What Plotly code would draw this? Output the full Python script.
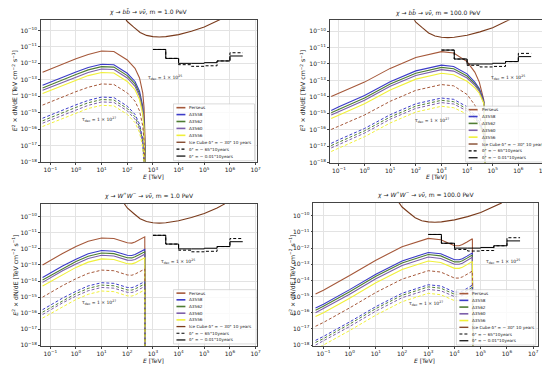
import plotly.graph_objects as go

W, H = 550, 365

# ---------------- data ----------------
# energies [TeV]
E_bb_1 = [0.05, 0.1, 0.3, 1, 3, 10, 30, 100, 200, 300, 400, 450, 490, 500]
E_bb_100 = [0.05, 0.1, 1, 10, 100, 1000, 3000, 10000, 20000, 30000, 40000, 45000, 49000, 50000]
E_ww_1 = [0.05, 0.1, 0.3, 1, 3, 10, 30, 100, 150, 200, 300, 400, 480, 500]
E_ww_100 = [0.05, 0.1, 1, 10, 100, 1000, 3000, 10000, 15000, 20000, 30000, 40000, 48000, 50000]

# chi -> b bbar, m = 1 PeV, tau = 1e25 (solid) and 1e27 (dashed)
bb1_perseus = [2.9e-13, 4.5e-13, 9.3e-13, 1.9e-12, 3.5e-12, 5.6e-12, 5.2e-12, 1.6e-12, 5.0e-13, 1.3e-13, 1.6e-14, 2.0e-15, 3.2e-17, 1e-19]
bb1_a3558 = [4.6e-14, 7.1e-14, 1.5e-13, 3.0e-13, 5.6e-13, 8.9e-13, 8.3e-13, 2.5e-13, 7.9e-14, 2.0e-14, 2.5e-15, 3.2e-16, 5.0e-18, 1e-19]
bb1_a3562 = [3.2e-14, 5.0e-14, 1.05e-13, 2.1e-13, 4.0e-13, 6.3e-13, 5.9e-13, 1.8e-13, 5.6e-14, 1.4e-14, 1.8e-15, 2.2e-16, 3.5e-18, 1e-19]
bb1_a3560 = [2.3e-14, 3.5e-14, 7.4e-14, 1.5e-13, 2.8e-13, 4.5e-13, 4.2e-13, 1.3e-13, 4.0e-14, 1.0e-14, 1.3e-15, 1.6e-16, 2.5e-18, 1e-19]
bb1_a3556 = [1.45e-14, 2.2e-14, 4.7e-14, 9.5e-14, 1.8e-13, 2.8e-13, 2.6e-13, 7.9e-14, 2.5e-14, 6.3e-15, 7.9e-16, 1.0e-16, 1.6e-18, 1e-19]
bb1_perseus_27 = [2.9e-15, 4.5e-15, 9.3e-15, 1.9e-14, 3.5e-14, 5.6e-14, 5.2e-14, 1.6e-14, 5.0e-15, 1.3e-15, 1.6e-16, 2.0e-17, 3.2e-19, 1e-21]
bb1_a3558_27 = [4.6e-16, 7.1e-16, 1.5e-15, 3.0e-15, 5.6e-15, 8.9e-15, 8.3e-15, 2.5e-15, 7.9e-16, 2.0e-16, 2.5e-17, 3.2e-18, 5.0e-20, 1e-21]
bb1_a3562_27 = [3.2e-16, 5.0e-16, 1.05e-15, 2.1e-15, 4.0e-15, 6.3e-15, 5.9e-15, 1.8e-15, 5.6e-16, 1.4e-16, 1.8e-17, 2.2e-18, 3.5e-20, 1e-21]
bb1_a3560_27 = [2.3e-16, 3.5e-16, 7.4e-16, 1.5e-15, 2.8e-15, 4.5e-15, 4.2e-15, 1.3e-15, 4.0e-16, 1.0e-16, 1.3e-17, 1.6e-18, 2.5e-20, 1e-21]
bb1_a3556_27 = [1.45e-16, 2.2e-16, 4.7e-16, 9.5e-16, 1.8e-15, 2.8e-15, 2.6e-15, 7.9e-16, 2.5e-16, 6.3e-17, 7.9e-18, 1.0e-18, 1.6e-20, 1e-21]

# chi -> b bbar, m = 100 PeV
bb100_perseus = [1.05e-14, 1.66e-14, 7.9e-14, 5.4e-13, 2.5e-12, 5.6e-12, 4.7e-12, 1.4e-12, 3.2e-13, 7.9e-14, 1.6e-14, 6.3e-15, 3.2e-16, 1e-19]
bb100_a3558 = [1.5e-15, 2.5e-15, 1.2e-14, 8.3e-14, 3.8e-13, 8.5e-13, 7.1e-13, 2.5e-13, 7.9e-14, 3.2e-14, 1.0e-14, 5.0e-15, 3.2e-16, 1e-19]
bb100_a3562 = [1.1e-15, 1.8e-15, 8.7e-15, 6.0e-14, 2.75e-13, 6.2e-13, 5.1e-13, 1.86e-13, 6.3e-14, 2.6e-14, 8.9e-15, 4.7e-15, 3.2e-16, 1e-19]
bb100_a3560 = [7.9e-16, 1.3e-15, 6.3e-15, 4.4e-14, 2.0e-13, 4.5e-13, 3.7e-13, 1.4e-13, 5.0e-14, 2.2e-14, 7.9e-15, 4.4e-15, 3.2e-16, 1e-19]
bb100_a3556 = [4.8e-16, 7.9e-16, 3.8e-15, 2.6e-14, 1.2e-13, 2.7e-13, 2.2e-13, 8.9e-14, 3.5e-14, 1.66e-14, 6.6e-15, 4.0e-15, 3.2e-16, 1e-19]
bb100_perseus_27 = [1.05e-16, 1.66e-16, 7.9e-16, 5.4e-15, 2.5e-14, 5.6e-14, 4.7e-14, 1.4e-14, 3.2e-15, 7.9e-16, 1.6e-16, 6.3e-17, 3.2e-18, 1e-21]
bb100_a3558_27 = [1.5e-17, 2.5e-17, 1.2e-16, 8.3e-16, 3.8e-15, 8.5e-15, 7.1e-15, 2.5e-15, 7.9e-16, 3.2e-16, 1.0e-16, 5.0e-17, 3.2e-18, 1e-21]
bb100_a3562_27 = [1.1e-17, 1.8e-17, 8.7e-17, 6.0e-16, 2.75e-15, 6.2e-15, 5.1e-15, 1.86e-15, 6.3e-16, 2.6e-16, 8.9e-17, 4.7e-17, 3.2e-18, 1e-21]
bb100_a3560_27 = [7.9e-18, 1.3e-17, 6.3e-17, 4.4e-16, 2.0e-15, 4.5e-15, 3.7e-15, 1.4e-15, 5.0e-16, 2.2e-16, 7.9e-17, 4.4e-17, 3.2e-18, 1e-21]
bb100_a3556_27 = [4.8e-18, 7.9e-18, 3.8e-17, 2.6e-16, 1.2e-15, 2.7e-15, 2.2e-15, 8.9e-16, 3.5e-16, 1.66e-16, 6.6e-17, 4.0e-17, 3.2e-18, 1e-21]

# chi -> W+ W-, m = 1 PeV
ww1_perseus = [1.0e-13, 1.9e-13, 5.2e-13, 1.4e-12, 3.0e-12, 4.8e-12, 4.4e-12, 2.4e-12, 2.3e-12, 2.7e-12, 3.8e-12, 4.8e-12, 5.6e-12, 1e-19]
ww1_a3558 = [1.66e-14, 3.2e-14, 8.7e-14, 2.3e-13, 5.0e-13, 7.9e-13, 7.2e-13, 4.0e-13, 3.9e-13, 4.5e-13, 6.3e-13, 7.9e-13, 9.3e-13, 1e-19]
ww1_a3562 = [1.17e-14, 2.2e-14, 6.2e-14, 1.66e-13, 3.5e-13, 5.6e-13, 5.1e-13, 2.8e-13, 2.75e-13, 3.2e-13, 4.5e-13, 5.6e-13, 6.6e-13, 1e-19]
ww1_a3560 = [8.3e-15, 1.6e-14, 4.4e-14, 1.17e-13, 2.5e-13, 4.0e-13, 3.6e-13, 2.0e-13, 1.95e-13, 2.2e-13, 3.2e-13, 4.0e-13, 4.7e-13, 1e-19]
ww1_a3556 = [5.0e-15, 9.5e-15, 2.6e-14, 7.1e-14, 1.5e-13, 2.4e-13, 2.2e-13, 1.2e-13, 1.17e-13, 1.35e-13, 1.9e-13, 2.4e-13, 2.8e-13, 1e-19]
ww1_perseus_27 = [1.0e-15, 1.9e-15, 5.2e-15, 1.4e-14, 3.0e-14, 4.8e-14, 4.4e-14, 2.4e-14, 2.3e-14, 2.7e-14, 3.8e-14, 4.8e-14, 5.6e-14, 1e-21]
ww1_a3558_27 = [1.66e-16, 3.2e-16, 8.7e-16, 2.3e-15, 5.0e-15, 7.9e-15, 7.2e-15, 4.0e-15, 3.9e-15, 4.5e-15, 6.3e-15, 7.9e-15, 9.3e-15, 1e-21]
ww1_a3562_27 = [1.17e-16, 2.2e-16, 6.2e-16, 1.66e-15, 3.5e-15, 5.6e-15, 5.1e-15, 2.8e-15, 2.75e-15, 3.2e-15, 4.5e-15, 5.6e-15, 6.6e-15, 1e-21]
ww1_a3560_27 = [8.3e-17, 1.6e-16, 4.4e-16, 1.17e-15, 2.5e-15, 4.0e-15, 3.6e-15, 2.0e-15, 1.95e-15, 2.2e-15, 3.2e-15, 4.0e-15, 4.7e-15, 1e-21]
ww1_a3556_27 = [5.0e-17, 9.5e-17, 2.6e-16, 7.1e-16, 1.5e-15, 2.4e-15, 2.2e-15, 1.2e-15, 1.17e-15, 1.35e-15, 1.9e-15, 2.4e-15, 2.8e-15, 1e-21]

# chi -> W+ W-, m = 100 PeV
ww100_perseus = [1.45e-15, 2.5e-15, 2.0e-14, 1.8e-13, 1.2e-12, 4.0e-12, 3.3e-12, 1.4e-12, 1.4e-12, 1.66e-12, 2.4e-12, 3.2e-12, 3.8e-12, 1e-19]
ww100_a3558 = [1.95e-16, 3.4e-16, 2.7e-15, 2.4e-14, 1.6e-13, 5.4e-13, 4.5e-13, 1.9e-13, 1.9e-13, 2.2e-13, 3.2e-13, 4.3e-13, 5.1e-13, 1e-19]
ww100_a3562 = [1.45e-16, 2.5e-16, 2.0e-15, 1.8e-14, 1.2e-13, 4.0e-13, 3.3e-13, 1.4e-13, 1.4e-13, 1.66e-13, 2.4e-13, 3.2e-13, 3.8e-13, 1e-19]
ww100_a3560 = [1.0e-16, 1.8e-16, 1.4e-15, 1.26e-14, 8.5e-14, 2.8e-13, 2.3e-13, 1.0e-13, 1.0e-13, 1.17e-13, 1.7e-13, 2.2e-13, 2.7e-13, 1e-19]
ww100_a3556 = [5.8e-17, 1.0e-16, 7.9e-16, 7.1e-15, 4.8e-14, 1.6e-13, 1.3e-13, 5.6e-14, 5.6e-14, 6.6e-14, 9.5e-14, 1.26e-13, 1.5e-13, 1e-19]
ww100_perseus_27 = [1.45e-17, 2.5e-17, 2.0e-16, 1.8e-15, 1.2e-14, 4.0e-14, 3.3e-14, 1.4e-14, 1.4e-14, 1.66e-14, 2.4e-14, 3.2e-14, 3.8e-14, 1e-21]
ww100_a3558_27 = [1.95e-18, 3.4e-18, 2.7e-17, 2.4e-16, 1.6e-15, 5.4e-15, 4.5e-15, 1.9e-15, 1.9e-15, 2.2e-15, 3.2e-15, 4.3e-15, 5.1e-15, 1e-21]
ww100_a3562_27 = [1.45e-18, 2.5e-18, 2.0e-17, 1.8e-16, 1.2e-15, 4.0e-15, 3.3e-15, 1.4e-15, 1.4e-15, 1.66e-15, 2.4e-15, 3.2e-15, 3.8e-15, 1e-21]
ww100_a3560_27 = [1.0e-18, 1.8e-18, 1.4e-17, 1.26e-16, 8.5e-16, 2.8e-15, 2.3e-15, 1.0e-15, 1.0e-15, 1.17e-15, 1.7e-15, 2.2e-15, 2.7e-15, 1e-21]
ww100_a3556_27 = [5.8e-19, 1.0e-18, 7.9e-18, 7.1e-17, 4.8e-16, 1.6e-15, 1.3e-15, 5.6e-16, 5.6e-16, 6.6e-16, 9.5e-16, 1.26e-15, 1.5e-15, 1e-21]

# IceCube sensitivity curve (delta = -30 deg)
E_icecube = [70, 100, 178, 316, 562, 1000, 1780, 3160, 10000, 31600, 100000, 316000, 631000]
icecube_m30 = [7.9e-10, 3.5e-10, 1.6e-10, 7.6e-11, 5.0e-11, 4.2e-11, 4.0e-11, 4.2e-11, 5.6e-11, 8.9e-11, 1.6e-10, 3.5e-10, 6.3e-10]

# IceCube binned sensitivities (step lines)
E_bins = [1e3, 3.16e3, 1e4, 3.16e4, 1e5, 3.16e5, 1e6, 3.16e6]
icecube_m65 = [7.0e-12, 2.0e-12, 8.3e-13, 6.6e-13, 7.1e-13, 1.4e-12, 4.4e-12, 4.4e-12]
icecube_m001 = [7.0e-12, 2.0e-12, 1.0e-12, 1.0e-12, 1.1e-12, 1.4e-12, 2.8e-12, 2.8e-12]

cluster_names = ["Perseus", "A3558", "A3562", "A3560", "A3556"]
legend_labels = ["Perseus", "A3558", "A3562", "A3560", "A3556",
                 "Ice Cube δ° = − 30° 10 years", "δ° = − 65°10years", "δ° = − 0.01°10years"]
x_tickvals = [1e-1, 1e0, 1e1, 1e2, 1e3, 1e4, 1e5, 1e6, 1e7]
x_ticktext = ["10<sup>−1</sup>", "10<sup>0</sup>", "10<sup>1</sup>", "10<sup>2</sup>", "10<sup>3</sup>",
              "10<sup>4</sup>", "10<sup>5</sup>", "10<sup>6</sup>", "10<sup>7</sup>"]
y_tickvals = [1e-18, 1e-17, 1e-16, 1e-15, 1e-14, 1e-13, 1e-12, 1e-11, 1e-10]
y_ticktext = ["10<sup>−18</sup>", "10<sup>−17</sup>", "10<sup>−16</sup>", "10<sup>−15</sup>", "10<sup>−14</sup>",
              "10<sup>−13</sup>", "10<sup>−12</sup>", "10<sup>−11</sup>", "10<sup>−10</sup>"]

# ---------------- styles ----------------
C_PERSEUS = "#a5583a"
C_BLUE = "#3c3cc8"
C_GREEN = "#4f7d33"
C_PURPLE = "#7d60aa"
C_YELLOW = "#f0f03a"
C_ICE = "#7a3b1c"
colors = [C_PERSEUS, C_BLUE, C_GREEN, C_PURPLE, C_YELLOW]
FONT = "DejaVu Sans"

panels = [
    dict(E=E_bb_1, solid=[bb1_perseus, bb1_a3558, bb1_a3562, bb1_a3560, bb1_a3556],
         dashed=[bb1_perseus_27, bb1_a3558_27, bb1_a3562_27, bb1_a3560_27, bb1_a3556_27],
         title="<i>χ</i> → <i>b</i><i>b̄</i> → <i>νν̄</i>, m = 1.0 PeV",
         px=(33.3, 250.7), py=(11.7, 155.3), xr=(-1.36, 7.05), yr=(-18.0, -9.34),
         t25=(2.74, -12.85), t27=(0.16, -15.43),
         leg=(166.7, 96.7, 248.3, 154.0, 100.5, 149.3),
         ytitle=(7, 83), xtitle=(147, 169.5)),
    dict(E=E_bb_100, solid=[bb100_perseus, bb100_a3558, bb100_a3562, bb100_a3560, bb100_a3556],
         dashed=[bb100_perseus_27, bb100_a3558_27, bb100_a3562_27, bb100_a3560_27, bb100_a3556_27],
         title="<i>χ</i> → <i>b</i><i>b̄</i> → <i>νν̄</i>, m = 100.0 PeV",
         px=(324.3, 541.7), py=(12.3, 156.0), xr=(-1.35, 7.07), yr=(-18.0, -9.34),
         t25=(4.85, -12.81), t27=(1.88, -15.43),
         leg=(461.0, 99.0, 541.0, 155.3, 102.5, 151.0),
         ytitle=(297, 83), xtitle=(432, 170)),
    dict(E=E_ww_1, solid=[ww1_perseus, ww1_a3558, ww1_a3562, ww1_a3560, ww1_a3556],
         dashed=[ww1_perseus_27, ww1_a3558_27, ww1_a3562_27, ww1_a3560_27, ww1_a3556_27],
         title="<i>χ</i> → <i>W</i><sup>+</sup><i>W</i><sup>−</sup> → <i>νν̄</i>, m = 1.0 PeV",
         px=(33.3, 250.7), py=(197.5, 340.5), xr=(-1.36, 7.05), yr=(-18.02, -9.2),
         t25=(3.22, -12.79), t27=(0.16, -15.31),
         leg=(166.7, 284.0, 250.0, 338.7, 287.5, 334.7),
         ytitle=(7, 269), xtitle=(147, 355)),
    dict(E=E_ww_100, solid=[ww100_perseus, ww100_a3558, ww100_a3562, ww100_a3560, ww100_a3556],
         dashed=[ww100_perseus_27, ww100_a3558_27, ww100_a3562_27, ww100_a3560_27, ww100_a3556_27],
         title="<i>χ</i> → <i>W</i><sup>+</sup><i>W</i><sup>−</sup> → <i>νν̄</i>, m = 100.0 PeV",
         px=(307.7, 534.3), py=(196.5, 340.5), xr=(-1.38, 7.2), yr=(-18.04, -9.2),
         t25=(5.13, -12.85), t27=(2.18, -15.41),
         leg=(451.7, 284.0, 531.7, 339.8, 288.0, 335.5),
         ytitle=(286, 269), xtitle=(420, 355)),
]


def fx(px):
    return px / W


def fy(py):
    return 1 - py / H


fig = go.Figure()
layout = dict(width=W, height=H, margin=dict(l=0, r=0, t=0, b=0),
              paper_bgcolor="white", plot_bgcolor="white", showlegend=False,
              font=dict(family=FONT, size=6, color="#222"))
shapes = []
annotations = []

for i, p in enumerate(panels):
    n = "" if i == 0 else str(i + 1)
    xa, ya = "x" + n, "y" + n
    axis_common = dict(type="log", showline=True, mirror=True, linecolor="#444", linewidth=0.8,
                       ticks="outside", ticklen=2, tickwidth=0.6, tickcolor="#444",
                       showgrid=True, gridcolor="#e3e3e3", gridwidth=0.6, zeroline=False,
                       tickfont=dict(family=FONT, size=6, color="#222"))
    layout["xaxis" + n] = dict(axis_common, domain=[fx(p["px"][0]), fx(p["px"][1])], anchor=ya,
                               range=list(p["xr"]), tickmode="array",
                               tickvals=x_tickvals, ticktext=x_ticktext)
    layout["yaxis" + n] = dict(axis_common, domain=[fy(p["py"][1]), fy(p["py"][0])], anchor=xa,
                               range=list(p["yr"]), tickmode="array",
                               tickvals=y_tickvals, ticktext=y_ticktext)

    for k in range(5):
        fig.add_trace(go.Scatter(x=p["E"], y=p["solid"][k], mode="lines", xaxis=xa, yaxis=ya,
                                 line=dict(color=colors[k], width=1.1), name=cluster_names[k]))
    for k in range(5):
        fig.add_trace(go.Scatter(x=p["E"], y=p["dashed"][k], mode="lines", xaxis=xa, yaxis=ya,
                                 line=dict(color=colors[k], width=1.0, dash="3px,2px"),
                                 name=cluster_names[k] + " τ=1e27"))
    fig.add_trace(go.Scatter(x=E_icecube, y=icecube_m30, mode="lines", xaxis=xa, yaxis=ya,
                             line=dict(color=C_ICE, width=1.1), name=legend_labels[5]))
    fig.add_trace(go.Scatter(x=E_bins, y=icecube_m65, mode="lines", xaxis=xa, yaxis=ya,
                             line=dict(color="black", width=1.0, dash="3px,2px", shape="hv"),
                             name=legend_labels[6]))
    fig.add_trace(go.Scatter(x=E_bins, y=icecube_m001, mode="lines", xaxis=xa, yaxis=ya,
                             line=dict(color="black", width=1.0, shape="hv"),
                             name=legend_labels[7]))

    # title
    cx = (p["px"][0] + p["px"][1]) / 2
    annotations.append(dict(text=p["title"], x=fx(cx), y=fy(p["py"][0] - 1.5), xref="paper", yref="paper",
                            xanchor="center", yanchor="bottom", showarrow=False,
                            font=dict(family=FONT, size=6, color="#222")))
    # axis titles
    annotations.append(dict(text="<i>E</i><sup>2</sup> × dN/dE [TeV cm<sup>−2</sup> s<sup>−1</sup>]",
                            x=fx(p["ytitle"][0]), y=fy(p["ytitle"][1]), xref="paper", yref="paper",
                            textangle=-90, showarrow=False, xanchor="center", yanchor="middle",
                            font=dict(family=FONT, size=6.2, color="#222")))
    annotations.append(dict(text="<i>E</i> [TeV]", x=fx(p["xtitle"][0]), y=fy(p["xtitle"][1]),
                            xref="paper", yref="paper", showarrow=False,
                            xanchor="center", yanchor="middle",
                            font=dict(family=FONT, size=6, color="#222")))
    # lifetime labels
    for (tx, ty), lab in [(p["t25"], "25"), (p["t27"], "27")]:
        annotations.append(dict(text="τ<sub>dec</sub> = 1 × 10<sup>" + lab + "</sup>", x=tx, y=ty,
                                xref=xa, yref=ya, xanchor="left", yanchor="middle", showarrow=False,
                                font=dict(family=FONT, size=4.5, color="#222")))
    # legend box
    lx0, ly0, lx1, ly1, r0, r1 = p["leg"]
    shapes.append(dict(type="rect", xref="paper", yref="paper", x0=fx(lx0), x1=fx(lx1),
                       y0=fy(ly1), y1=fy(ly0), fillcolor="rgba(255,255,255,0.82)",
                       line=dict(color="#cccccc", width=0.7), layer="above"))
    styles = [(c, "solid", 1.6) for c in colors] + [(C_ICE, "solid", 1.3), ("black", "3px,2px", 1.2),
                                                   ("black", "solid", 1.2)]
    for j, lab in enumerate(legend_labels):
        ry = r0 + (r1 - r0) * j / 7
        col, dsh, lw = styles[j]
        shapes.append(dict(type="line", xref="paper", yref="paper", x0=fx(lx0 + 3), x1=fx(lx0 + 12),
                           y0=fy(ry), y1=fy(ry), line=dict(color=col, width=lw, dash=dsh), layer="above"))
        annotations.append(dict(text=lab, x=fx(lx0 + 14), y=fy(ry), xref="paper", yref="paper",
                                xanchor="left", yanchor="middle", showarrow=False,
                                font=dict(family=FONT, size=4.2, color="#222")))

layout["shapes"] = shapes
layout["annotations"] = annotations
fig.update_layout(**layout)
fig.write_html("out.html")
